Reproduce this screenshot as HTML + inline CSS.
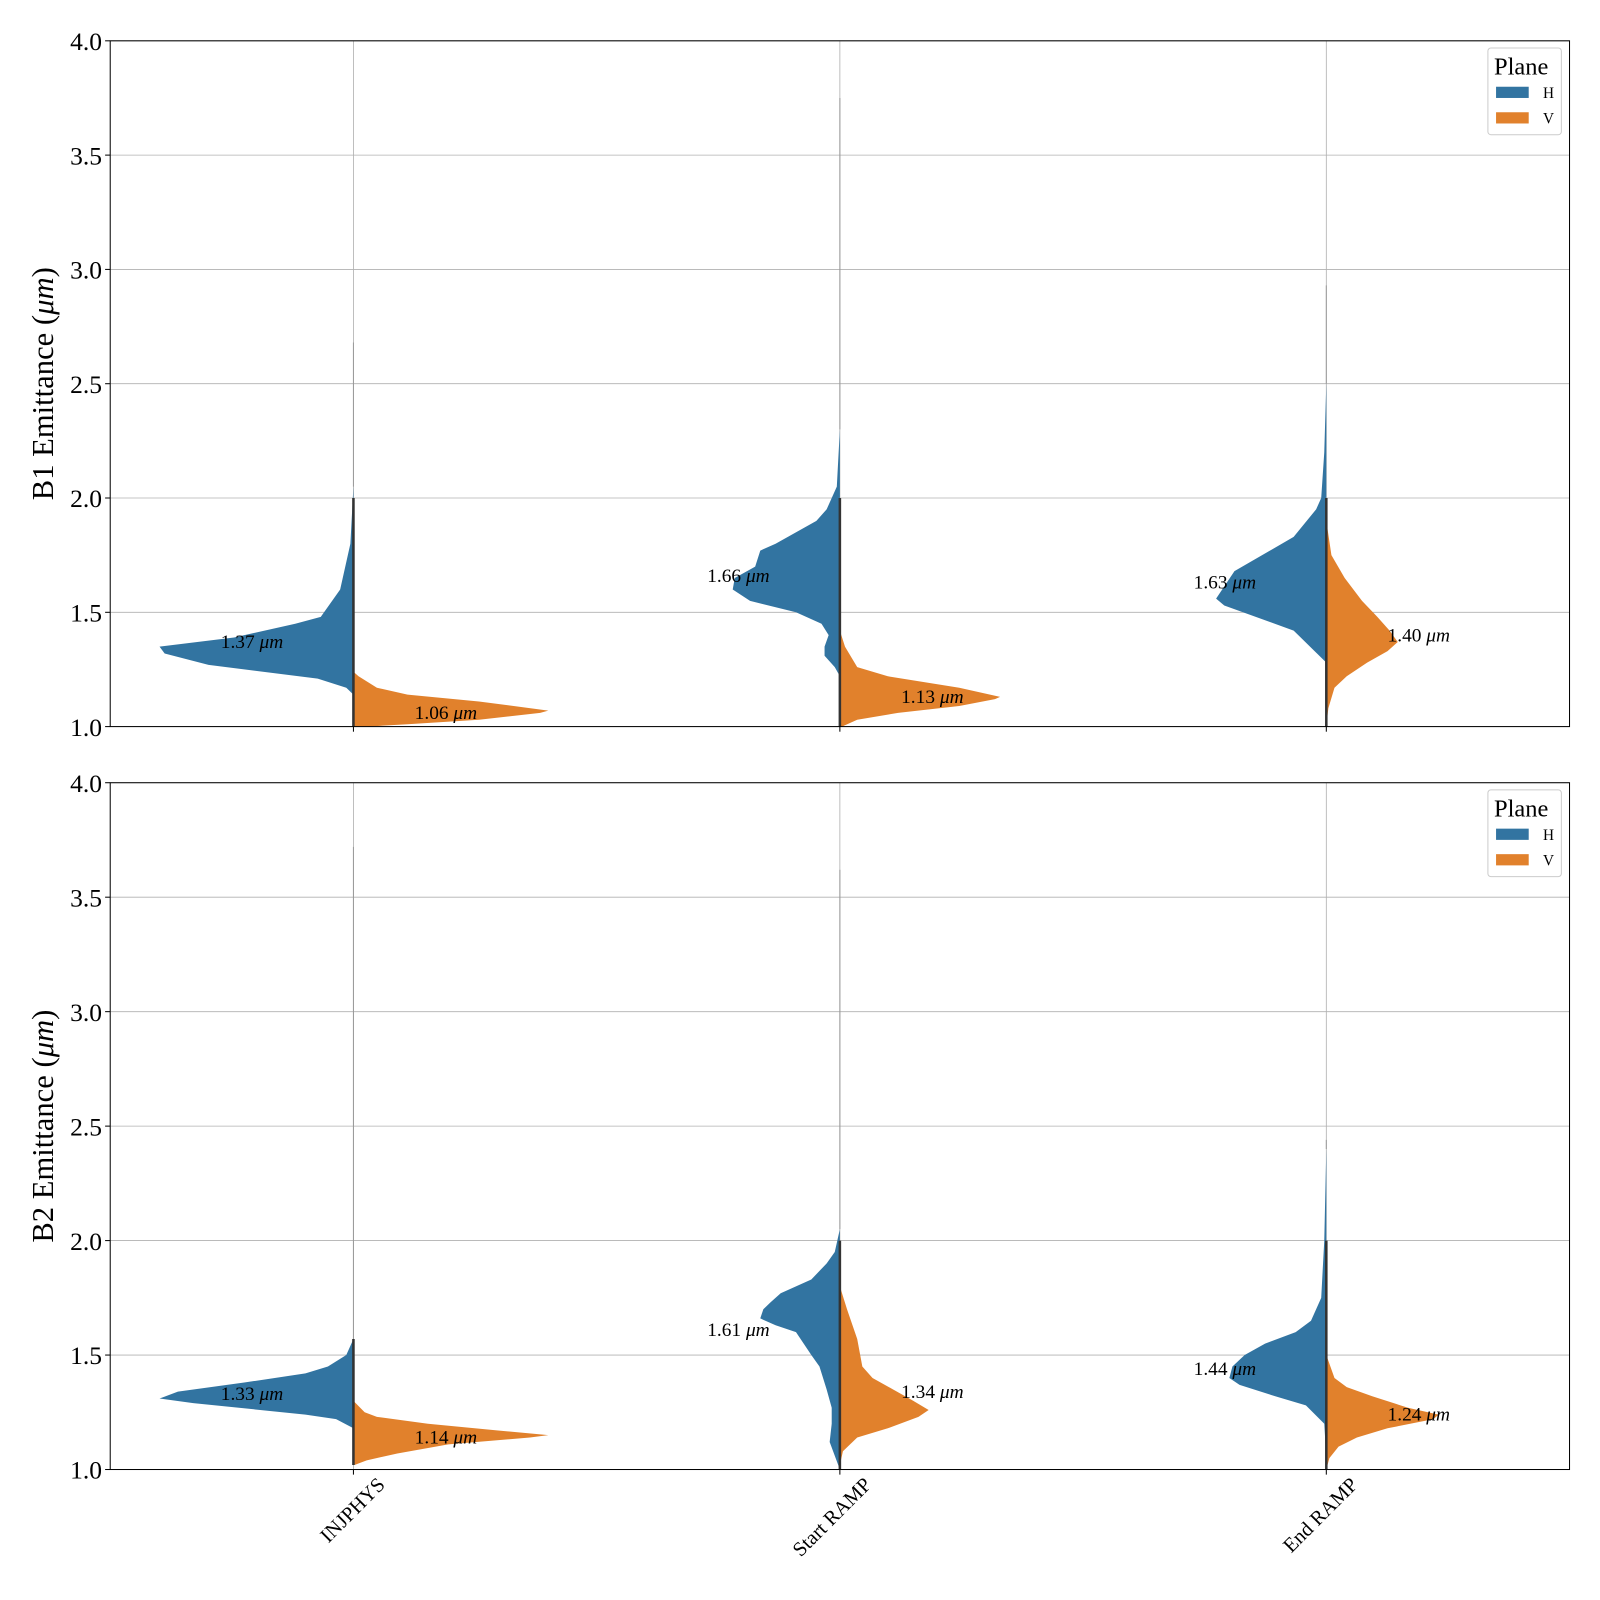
<!DOCTYPE html>
<html><head><meta charset="utf-8"><style>
html,body{margin:0;padding:0;background:#fff;overflow:hidden;}
svg{display:block;font-family:"Liberation Serif",serif;}
</style></head><body>
<svg width="1600" height="1600" viewBox="0 0 1600 1600" xmlns="http://www.w3.org/2000/svg"><g id="chart" transform="scale(1.0205)"></g></svg>
<script>
const categories = ["INJPHYS", "Start RAMP", "End RAMP"];
const yTicks = [1.0, 1.5, 2.0, 2.5, 3.0, 3.5, 4.0];
const panelNames = ["B1", "B2"];
// density profiles: [value, half-width density]
const b1H = [
 [[2.05,0],[1.8,3],[1.6,13],[1.48,32],[1.45,57],[1.39,117],[1.35,190],[1.32,185],[1.27,142],[1.21,35],[1.17,7],[1.14,0]],
 [[2.3,0],[2.05,3],[1.95,13],[1.9,23],[1.8,63],[1.77,78],[1.7,83],[1.65,103],[1.6,105],[1.55,88],[1.5,43],[1.45,18],[1.4,11],[1.35,15],[1.31,15],[1.26,5],[1.22,0]],
 [[2.5,0],[2.2,2],[2.0,5],[1.95,10],[1.83,32],[1.68,90],[1.56,108],[1.53,100],[1.42,32],[1.28,0]]
];
const b1V = [
 [[1.24,0],[1.22,5],[1.17,23],[1.14,53],[1.11,123],[1.07,191],[1.06,183],[1.03,123],[1.01,53],[1.0,13]],
 [[1.42,0],[1.35,5],[1.26,17],[1.22,47],[1.17,117],[1.13,157],[1.12,152],[1.09,117],[1.06,57],[1.03,17],[1.0,2]],
 [[1.9,0],[1.75,5],[1.65,18],[1.55,35],[1.48,50],[1.42,62],[1.37,70],[1.33,60],[1.28,40],[1.22,20],[1.17,8],[1.08,2],[1.0,0]]
];
const b2H = [
 [[1.57,0],[1.5,7],[1.45,25],[1.42,47],[1.38,107],[1.34,172],[1.31,190],[1.29,157],[1.24,47],[1.22,17],[1.18,0]],
 [[2.05,0],[1.95,5],[1.9,13],[1.83,28],[1.77,58],[1.73,68],[1.7,75],[1.66,78],[1.63,63],[1.6,43],[1.5,28],[1.45,20],[1.35,13],[1.27,8],[1.2,8],[1.12,10],[1.06,5],[1.0,0]],
 [[2.4,0],[2.0,2],[1.75,5],[1.65,15],[1.6,30],[1.55,60],[1.5,80],[1.45,92],[1.4,95],[1.37,85],[1.32,50],[1.28,20],[1.2,2],[1.05,0]]
];
const b2V = [
 [[1.3,0],[1.25,11],[1.23,23],[1.2,73],[1.17,143],[1.15,191],[1.14,173],[1.11,93],[1.07,43],[1.04,13],[1.02,1]],
 [[1.8,0],[1.7,7],[1.57,17],[1.45,22],[1.4,32],[1.35,52],[1.3,72],[1.26,87],[1.23,77],[1.18,47],[1.14,17],[1.08,3],[1.02,0]],
 [[1.5,0],[1.4,8],[1.36,20],[1.32,45],[1.27,80],[1.24,110],[1.22,105],[1.18,60],[1.14,30],[1.1,12],[1.05,3],[1.0,0]]
];
const b1MedH = [1.37, 1.66, 1.63], b1MedV = [1.06, 1.13, 1.40];
const b2MedH = [1.33, 1.61, 1.44], b2MedV = [1.14, 1.34, 1.24];
const b1Max = [2.68, 3.75, 2.93], b2Max = [3.72, 3.62, 2.44];

const NS = "http://www.w3.org/2000/svg";
const svg = document.getElementById("chart");
function mk(tag, attrs, parent, text) {
  const e = document.createElementNS(NS, tag);
  for (const k in attrs) e.setAttribute(k, attrs[k]);
  if (text !== undefined) e.textContent = text;
  (parent || svg).appendChild(e);
  return e;
}
const X0 = 108, X1 = 1538;
const panels = [{top: 40, bot: 712, H: b1H, V: b1V, mH: b1MedH, mV: b1MedV, mx: b1Max},
                {top: 767, bot: 1440, H: b2H, V: b2V, mH: b2MedH, mV: b2MedV, mx: b2Max}];
const xPos = i => X0 + (X1 - X0) * (i + 0.5) / categories.length;
const wScale = 1.0;

panels.forEach((p, pi) => {
  const y = v => p.bot - (v - 1.0) / 3.0 * (p.bot - p.top);
  const g = mk("g", {});
  
  
  yTicks.forEach(t => {
    const l = mk("line", {x1: X0, x2: X1, y1: y(t), y2: y(t), stroke: "#b0b0b0", "stroke-width": 0.8}, g);
    
    
    const tl = mk("text", {x: X0 - 8, y: y(t) + 9, "text-anchor": "end", "font-size": 25}, g, t.toFixed(1));
    
    
    mk("line", {x1: X0 - 5, x2: X0, y1: y(t), y2: y(t), stroke: "#000", "stroke-width": 1}, g);
  });
  categories.forEach((c, i) => {
    const cx = xPos(i);
    const gl = mk("line", {x1: cx, x2: cx, y1: p.top, y2: p.bot, stroke: "#b0b0b0", "stroke-width": 0.8}, g);
    
    
    let d = "M" + cx + "," + y(p.H[i][0][0]);
    p.H[i].forEach(pt => d += " L" + (cx - pt[1] * wScale) + "," + y(pt[0]));
    d += " L" + cx + "," + y(p.H[i][p.H[i].length - 1][0]) + " Z";
    const vh = mk("path", {d: d, fill: "#3274a1"}, g);
    
    
    let d2 = "M" + cx + "," + y(p.V[i][0][0]);
    p.V[i].forEach(pt => d2 += " L" + (cx + pt[1] * wScale) + "," + y(pt[0]));
    d2 += " L" + cx + "," + y(p.V[i][p.V[i].length - 1][0]) + " Z";
    const vv = mk("path", {d: d2, fill: "#e1812c"}, g);
    
    
    const lo = Math.min(p.H[i][p.H[i].length - 1][0], p.V[i][p.V[i].length - 1][0]);
    const hi = Math.max(p.H[i][0][0], p.V[i][0][0]);
    mk("line", {x1: cx, x2: cx, y1: y(hi), y2: y(p.mx[i]), stroke: "#999", "stroke-width": 1}, g);
    const st = mk("line", {x1: cx, x2: cx, y1: y(Math.min(hi, 2.0)), y2: y(lo), stroke: "#333", "stroke-width": 2.5}, g);
    
    
    const ah = mk("text", {x: cx - 130, y: y(p.mH[i]) + 6, "font-size": 19}, g);
    
    
    ah.innerHTML = p.mH[i].toFixed(2) + ' <tspan font-style="italic">μm</tspan>';
    const av = mk("text", {x: cx + 60, y: y(p.mV[i]) + 6, "font-size": 19}, g);
    
    
    av.innerHTML = p.mV[i].toFixed(2) + ' <tspan font-style="italic">μm</tspan>';
    mk("line", {x1: cx, x2: cx, y1: p.bot, y2: p.bot + 5, stroke: "#000"}, g);
  });
  const fr = mk("rect", {x: X0, y: p.top, width: X1 - X0, height: p.bot - p.top, fill: "none", stroke: "#000", "stroke-width": 1}, g);
  
  
  const yl = mk("text", {x: 0, y: 0, "font-size": 30, "text-anchor": "middle", transform: "translate(52," + ((p.top + p.bot) / 2) + ") rotate(-90)"}, g);
  
  
  yl.innerHTML = panelNames[pi] + ' Emittance (<tspan font-style="italic">μm</tspan>)';
  const lg = mk("g", {transform: "translate(1458," + (p.top + 7) + ")"}, g);
  
  
  mk("rect", {x: 0, y: 0, width: 72, height: 85, rx: 3, fill: "#fff", stroke: "#ccc"}, lg);
  mk("text", {x: 6, y: 26, "font-size": 24}, lg, "Plane");
  [["H", "#3274a1", 38], ["V", "#e1812c", 63]].forEach(e => {
    const r = mk("rect", {x: 8, y: e[2], width: 32, height: 11, fill: e[1]}, lg);
    
    
    mk("text", {x: 54, y: e[2] + 11, "font-size": 15}, lg, e[0]);
  });
});
categories.forEach((c, i) => {
  const t = mk("text", {x: 0, y: 0, "font-size": 20, "text-anchor": "end", transform: "translate(" + (xPos(i) + 32) + ",1456) rotate(-45)"}, svg, c);
  
  
});
</script>
</body></html>
